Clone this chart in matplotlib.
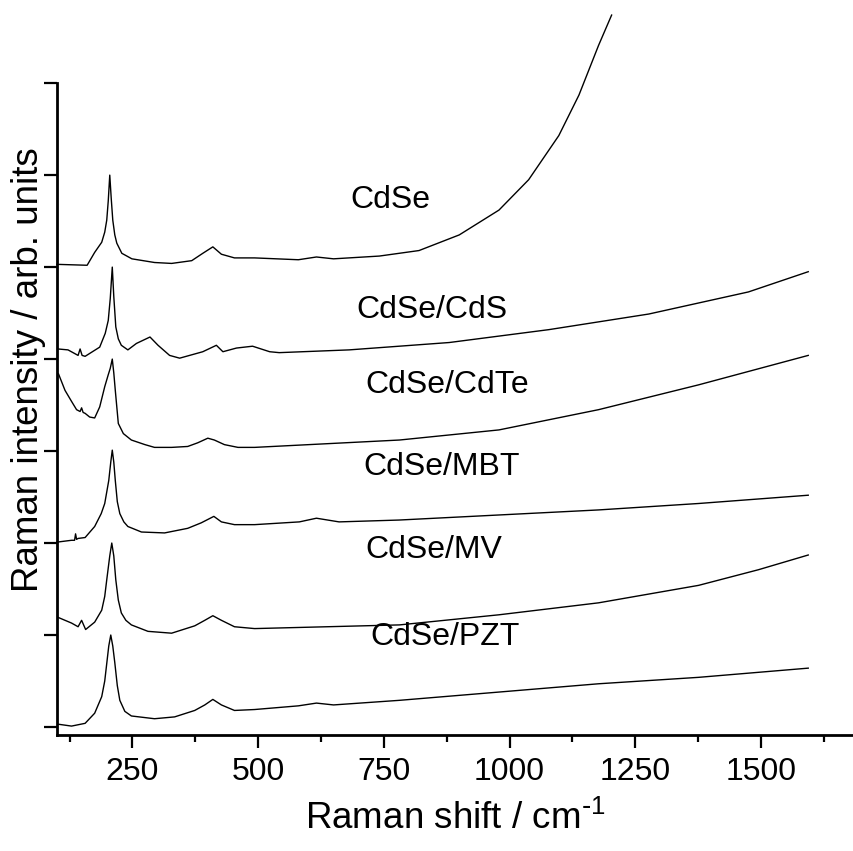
import matplotlib.pyplot as plt
from matplotlib.ticker import MultipleLocator

plt.rcParams['font.family'] = ['Liberation Sans', 'DejaVu Sans']

# Raman spectra (shift in cm^-1, stacked intensity in arb. units)
cdse_x = [100, 160, 175, 189, 195, 199, 202, 205, 208, 211, 215, 219, 229, 249, 294, 328, 368, 390, 410, 427,
          453, 493, 580, 616, 650, 741, 820, 900, 979, 1038, 1098, 1138, 1177, 1203]
cdse_y = [5.03, 5.02, 5.16, 5.27, 5.38, 5.51, 5.72, 6.00, 5.74, 5.51, 5.35, 5.26, 5.15, 5.09, 5.05, 5.04, 5.07, 5.15, 5.22, 5.14,
          5.10, 5.10, 5.08, 5.11, 5.09, 5.12, 5.18, 5.35, 5.62, 5.95, 6.43, 6.87, 7.41, 7.74]

cds_x = [102, 122, 142, 146, 150, 156, 185, 196, 202, 206, 210, 213, 217, 222, 228, 241, 258, 285, 301, 324, 344,
         390, 417, 430, 457, 489, 523, 542, 681, 880, 1078, 1277, 1475, 1594]
cds_y = [4.11, 4.10, 4.04, 4.11, 4.04, 4.03, 4.13, 4.28, 4.42, 4.66, 5.00, 4.68, 4.35, 4.22, 4.15, 4.10, 4.17, 4.24, 4.15, 4.04, 4.01,
         4.08, 4.15, 4.08, 4.12, 4.14, 4.08, 4.07, 4.10, 4.18, 4.32, 4.49, 4.73, 4.95]

cdte_x = [103, 116, 129, 139, 146, 149, 152, 156, 165, 175, 185, 195, 202, 206, 210, 213, 216, 222, 232, 248,
          275, 294, 328, 360, 380, 400, 413, 433, 460, 493, 781, 979, 1177, 1376, 1594]
cdte_y = [3.84, 3.66, 3.54, 3.45, 3.43, 3.47, 3.42, 3.41, 3.37, 3.36, 3.48, 3.70, 3.83, 3.90, 4.00, 3.85, 3.66, 3.30, 3.19, 3.12,
          3.07, 3.04, 3.04, 3.05, 3.09, 3.14, 3.12, 3.07, 3.04, 3.04, 3.12, 3.23, 3.45, 3.72, 4.04]

mbt_x = [100, 129, 135, 137, 139, 142, 156, 175, 188, 195, 203, 207, 210, 213, 216, 220, 225, 233, 241, 268, 314, 360, 387,
         412, 427, 453, 493, 582, 616, 661, 780, 1177, 1376, 1594]
mbt_y = [2.01, 2.03, 2.03, 2.10, 2.04, 2.05, 2.06, 2.18, 2.32, 2.43, 2.68, 2.88, 3.01, 2.88, 2.68, 2.45, 2.32, 2.23, 2.18, 2.12, 2.11, 2.16, 2.22,
         2.29, 2.23, 2.20, 2.20, 2.23, 2.27, 2.23, 2.25, 2.36, 2.43, 2.52]

mv_x = [103, 129, 142, 149, 157, 175, 189, 195, 199, 205, 209, 213, 217, 222, 228, 237, 248, 281, 328, 374, 394, 410,
        427, 453, 493, 781, 979, 1177, 1376, 1495, 1594]
mv_y = [1.19, 1.13, 1.09, 1.16, 1.06, 1.14, 1.27, 1.42, 1.60, 1.86, 2.00, 1.86, 1.60, 1.38, 1.24, 1.16, 1.11, 1.04, 1.02, 1.10, 1.16, 1.21,
        1.16, 1.09, 1.07, 1.11, 1.22, 1.35, 1.54, 1.71, 1.87]

pzt_x = [103, 129, 156, 175, 189, 195, 199, 203, 207, 211, 215, 220, 225, 235, 248, 294, 334, 374, 394, 410, 427, 453,
         493, 580, 616, 650, 781, 979, 1177, 1376, 1594]
pzt_y = [0.03, 0.01, 0.04, 0.15, 0.33, 0.50, 0.69, 0.88, 1.00, 0.88, 0.70, 0.45, 0.29, 0.17, 0.12, 0.09, 0.11, 0.18, 0.24, 0.30, 0.24, 0.18,
         0.19, 0.23, 0.26, 0.24, 0.29, 0.38, 0.47, 0.54, 0.64]

names = ['CdSe', 'CdSe/CdS', 'CdSe/CdTe', 'CdSe/MBT', 'CdSe/MV', 'CdSe/PZT']
label_x = [763, 846, 876, 864, 850, 872]
label_y = [5.73, 4.53, 3.72, 2.83, 1.92, 0.98]

fig = plt.figure(figsize=(8.54, 8.51), dpi=100)
ax = fig.add_axes([0.0667, 0.1363, 0.9333, 0.766])

spectra = [(cdse_x, cdse_y), (cds_x, cds_y), (cdte_x, cdte_y),
           (mbt_x, mbt_y), (mv_x, mv_y), (pzt_x, pzt_y)]
for (xs, ys) in spectra:
    ax.plot(xs, ys, color='black', lw=1.0, clip_on=False)

for name, lx, ly in zip(names, label_x, label_y):
    ax.text(lx, ly, name, fontsize=23, ha='center', va='center')

ax.set_xlim(100, 1685)
ax.set_ylim(-0.087, 7.0)

ax.xaxis.set_major_locator(MultipleLocator(250))
ax.xaxis.set_minor_locator(MultipleLocator(125))
ax.yaxis.set_major_locator(MultipleLocator(1))
ax.set_yticklabels([])

for side in ['top', 'right']:
    ax.spines[side].set_visible(False)
for side in ['left', 'bottom']:
    ax.spines[side].set_linewidth(2.0)

ax.tick_params(which='major', direction='out', length=9.5, width=1.6, labelsize=23, pad=6)
ax.tick_params(which='minor', direction='out', length=5, width=1.6)

ax.set_xlabel('Raman shift / cm$^{\\mathregular{\\text{-}1}}$', fontsize=26.5)
ax.set_ylabel('Raman intensity / arb. units', fontsize=26.5)
ax.xaxis.set_label_coords(0.5, -0.1)
ax.yaxis.set_label_coords(-0.014, 0.56)

plt.savefig('out.png', dpi=100)
